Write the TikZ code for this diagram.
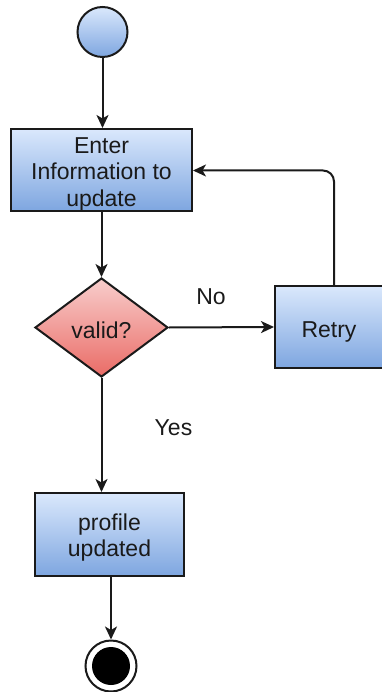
\documentclass[tikz,border=0pt]{standalone}
\usepackage{fontspec}
\setmainfont{Liberation Sans}
\usetikzlibrary{arrows.meta,shapes.geometric}

\definecolor{bluetop}{HTML}{DAE8FC}
\definecolor{bluebot}{HTML}{7EA6E0}
\definecolor{redtop}{HTML}{F8CECC}
\definecolor{redbot}{HTML}{EA6B66}
\definecolor{ink}{HTML}{1A1A1A}

\tikzset{
  flowline/.style={line width=2pt, draw=ink},
  flowarrow/.style={flowline, -{Stealth[length=13pt, width=12pt, inset=3.5pt]}},
  actbox/.style={rectangle, draw=ink, line width=2pt, top color=bluetop, bottom color=bluebot,
    inner sep=0pt},
  decision/.style={diamond, draw=ink, line width=2pt, top color=redtop, bottom color=redbot,
    inner sep=0pt, aspect=1.34},
  boxtext/.style={align=center, inner sep=0pt, font=\fontsize{23}{26.5}\selectfont, text=ink},
  lbl/.style={font=\fontsize{23}{26.5}\selectfont, text=ink, inner sep=0pt},
}

\begin{document}
\begin{tikzpicture}[x=1pt, y=-1pt]
  \useasboundingbox (0,0) rectangle (382,692);

  % start state
  \node (start) [circle, draw=ink, line width=2pt, top color=bluetop, bottom color=bluebot,
    minimum size=50pt, inner sep=0pt] at (102.5,32) {};

  % activities and decision
  \node (enter) [actbox, minimum width=181pt, minimum height=82pt] at (101.5,170) {};
  \node (check) [decision, minimum width=133pt, minimum height=99pt] at (101.5,327.5) {};
  \node (retry) [actbox, minimum width=108pt, minimum height=82pt] at (329,327) {};
  \node (done) [actbox, minimum width=149pt, minimum height=83pt] at (109.5,534.5) {};

  % their texts, set slightly below the geometric centre
  \node (entertxt) [boxtext] at ([yshift=-4pt]enter.center) {Enter\\Information to\\update};
  \node (checktxt) [boxtext] at ([yshift=-3pt]check.center) {valid?};
  \node (retrytxt) [boxtext] at ([yshift=-4.5pt]retry.center) {Retry};
  \node (donetxt) [boxtext] at ([yshift=-3pt]done.center) {profile\\updated};

  % end state
  \node (stop) [circle, draw=ink, line width=2pt, fill=white, minimum size=51pt, inner sep=0pt]
    at (111,666) {};
  \node (stopdot) [circle, fill=black, minimum size=38pt, inner sep=0pt] at (stop.center) {};

  % transitions
  \draw[flowarrow] (start.south) -- (start.south |- enter.north);
  \draw[flowarrow] (enter.south -| check.north) -- (check.north);
  \draw[flowarrow] (check.east) -- (retry.west);
  \draw[flowarrow] (check.south) -- (check.south |- done.north);
  \draw[flowarrow] (done.south -| stop.north) -- (stop.north);
  \coordinate (bend) at (334,170.5);
  \draw[flowarrow, rounded corners=11pt] (retry.north -| bend) -- (bend) -- (enter.east |- bend);

  % guard labels
  \node (nolbl) [lbl] at (211,297) {No};
  \node (yeslbl) [lbl] at (173.5,428) {Yes};
\end{tikzpicture}
\end{document}
